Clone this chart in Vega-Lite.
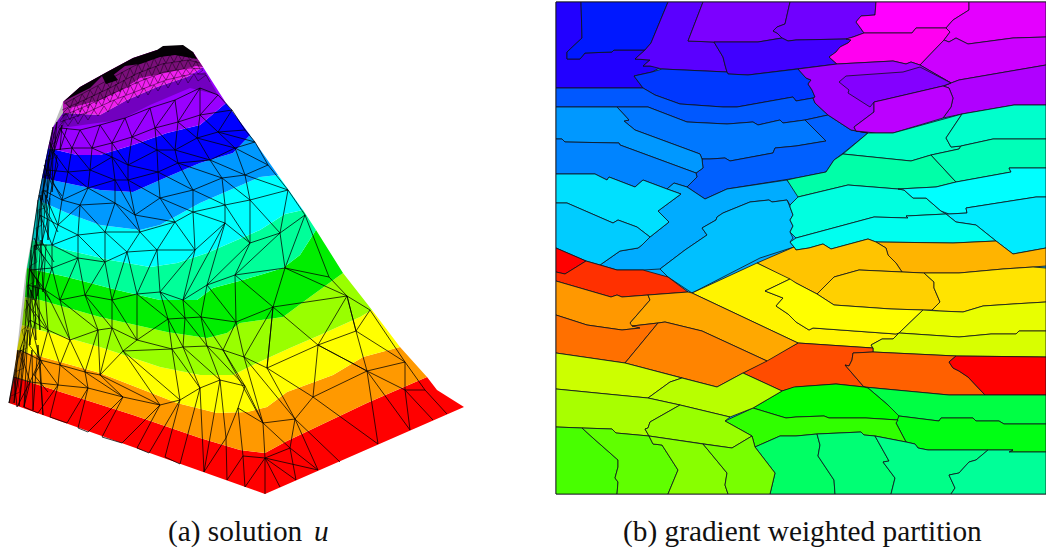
{"$schema":"https://vega.github.io/schema/vega-lite/v6.json","width":1046,"height":550,"padding":0,"autosize":"none","background":"white","config":{"view":{"stroke":null}},"projection":{"type":"identity"},"resolve":{"scale":{"color":"independent"}},"layer":[
{"data":{"values":[
{"type":"Feature","properties":{"band":"paper"},"geometry":{"type":"Polygon","coordinates":[[[0,0],[1046,0],[1046,550],[0,550],[0,0]]]}},
{"type":"Feature","properties":{"band":"v0"},"geometry":{"type":"Polygon","coordinates":[[[9,403],[14,377],[45,387],[133,415],[200,438],[240,450],[265,453],[287,441],[367,403],[427,377],[437,390],[464,407],[265,494],[9,403]]]}},
{"type":"Feature","properties":{"band":"v1"},"geometry":{"type":"Polygon","coordinates":[[[14,377],[17,350],[100,373],[177,403],[217,413],[247,412],[267,407],[287,392],[333,375],[363,357],[400,347],[427,377],[367,403],[287,441],[265,453],[240,450],[200,438],[133,415],[45,387],[14,377]]]}},
{"type":"Feature","properties":{"band":"v2"},"geometry":{"type":"Polygon","coordinates":[[[17,350],[22,325],[100,347],[160,367],[200,375],[233,375],[257,363],[290,348],[320,335],[360,317],[372,310],[400,347],[363,357],[333,375],[287,392],[267,407],[247,412],[217,413],[177,403],[100,373],[17,350]]]}},
{"type":"Feature","properties":{"band":"v3"},"geometry":{"type":"Polygon","coordinates":[[[22,325],[25,297],[40,300],[100,317],[167,332],[207,338],[227,333],[240,323],[283,317],[310,297],[343,273],[372,310],[360,317],[320,335],[290,348],[257,363],[233,375],[200,375],[160,367],[100,347],[22,325]]]}},
{"type":"Feature","properties":{"band":"v4"},"geometry":{"type":"Polygon","coordinates":[[[25,297],[27,268],[67,277],[117,290],[160,300],[197,300],[213,288],[243,280],[283,268],[300,255],[316,230],[343,273],[310,297],[283,317],[240,323],[227,333],[207,338],[167,332],[100,317],[40,300],[25,297]]]}},
{"type":"Feature","properties":{"band":"v5"},"geometry":{"type":"Polygon","coordinates":[[[27,268],[32,240],[67,250],[110,260],[150,267],[177,263],[207,253],[260,230],[285,214],[303,210],[316,230],[300,255],[283,268],[243,280],[213,288],[197,300],[160,300],[117,290],[67,277],[27,268]]]}},
{"type":"Feature","properties":{"band":"v6"},"geometry":{"type":"Polygon","coordinates":[[[32,240],[38,200],[67,213],[100,225],[140,230],[160,225],[200,203],[230,190],[260,177],[278,175],[303,210],[285,214],[260,230],[207,253],[177,263],[150,267],[110,260],[67,250],[32,240]]]}},
{"type":"Feature","properties":{"band":"v7"},"geometry":{"type":"Polygon","coordinates":[[[38,200],[42,178],[100,190],[133,192],[167,177],[200,163],[233,153],[250,135],[278,175],[260,177],[230,190],[200,203],[160,225],[140,230],[100,225],[67,213],[38,200]]]}},
{"type":"Feature","properties":{"band":"v8"},"geometry":{"type":"Polygon","coordinates":[[[42,178],[48,148],[77,155],[100,155],[133,145],[167,133],[200,125],[226,103],[250,135],[233,153],[200,163],[167,177],[133,192],[100,190],[42,178]]]}},
{"type":"Feature","properties":{"band":"v9"},"geometry":{"type":"Polygon","coordinates":[[[48,148],[53,127],[63,113],[100,115],[127,100],[157,87],[187,77],[203,67],[226,103],[200,125],[167,133],[133,145],[100,155],[77,155],[48,148]]]}},
{"type":"Feature","properties":{"band":"v10"},"geometry":{"type":"Polygon","coordinates":[[[63,113],[63,102],[80,87],[107,72],[133,58],[157,50],[183,50],[193,52],[203,67],[187,77],[157,87],[127,100],[100,115],[63,113]]]}},
{"type":"Feature","properties":{"band":"v11"},"geometry":{"type":"Polygon","coordinates":[[[63,102],[80,87],[107,72],[133,58],[157,50],[183,48],[193,52],[203,67],[196,66],[170,72],[140,78],[125,88],[100,100],[70,108],[63,102]]]}},
{"type":"Feature","properties":{"band":"v12"},"geometry":{"type":"Polygon","coordinates":[[[63,102],[80,87],[107,72],[133,58],[157,50],[163,46],[183,45],[193,52],[197,59],[175,55],[160,57],[140,64],[125,66],[112,76],[102,76],[90,88],[70,98],[63,102]]]}},
{"type":"Feature","properties":{"band":"v12"},"geometry":{"type":"Polygon","coordinates":[[[102,76],[112,72],[118,80],[106,84],[102,76]]]}}
]},"mark":{"type":"geoshape","stroke":null},"encoding":{"color":{"field":"properties.band","type":"nominal","legend":null,"scale":{"domain":["paper","v0","v1","v2","v3","v4","v5","v6","v7","v8","v9","v10","v11","v12"],"range":["#ffffff","#ff0000","#ff9900","#ffff00","#99ff00","#00ee00","#00ff99","#00ffff","#0099ff","#0000ff","#9900ff","#f020f0","#7a0f7a","#050005"]}}}},
{"data":{"values":[
{"type":"Feature","properties":{"zone":"left edge"},"geometry":{"type":"Polygon","coordinates":[[[9,403],[14,377],[25,277],[33,230],[42,177],[50,143],[53,127],[63,102],[72,108],[62,128],[54,150],[48,190],[42,225],[36,270],[28,330],[20,380],[13,404],[9,403]]]}},
{"type":"Feature","properties":{"zone":"upper rim"},"geometry":{"type":"Polygon","coordinates":[[[63,113],[100,115],[127,100],[157,87],[187,77],[205,72],[218,95],[190,88],[150,105],[120,120],[90,124],[62,128],[63,113]]]}}
]},"mark":{"type":"geoshape","fill":"#000000","fillOpacity":0.25,"stroke":null},"encoding":{}},
{"data":{"values":[
{"type":"Feature","properties":{"part":"rows"},"geometry":{"type":"MultiLineString","coordinates":[
[[60,128],[80,130],[100,125],[125,118],[150,108],[175,100],[200,88],[218,95]],
[[52,150],[72,148],[92,148],[112,143],[132,137],[155,128],[178,122],[200,115],[232,110]],
[[47,170],[68,172],[90,170],[112,157],[128,165],[157,150],[175,150],[197,138],[218,132],[245,130]],
[[43,190],[62,200],[88,188],[115,180],[128,180],[158,172],[178,163],[210,160],[235,148],[255,142]],
[[40,215],[58,225],[80,205],[115,203],[135,215],[160,198],[193,190],[222,178],[245,175],[268,165]],
[[35,245],[52,245],[78,235],[105,232],[140,232],[175,222],[193,212],[225,205],[250,200],[288,190]],
[[30,270],[52,268],[78,258],[105,262],[127,252],[157,250],[195,250],[225,223],[250,243],[280,233],[305,215]],
[[28,285],[45,290],[60,300],[85,295],[112,300],[137,294],[160,292],[183,300],[207,285],[235,275],[285,268],[329,277]],
[[30,320],[48,330],[70,340],[98,330],[112,328],[137,340],[168,319],[185,318],[201,317],[236,322],[273,307],[347,296]],
[[20,350],[40,360],[60,365],[85,372],[100,375],[123,351],[172,349],[183,347],[207,346],[223,350],[244,357],[267,368],[318,345],[356,331],[370,310]],
[[14,377],[30,382],[58,385],[88,388],[123,397],[160,405],[180,400],[200,388],[220,380],[245,386],[263,423],[295,419],[313,397],[367,371],[405,362]],
[[226,438],[238,408],[263,423]],[[243,456],[265,458],[290,448],[318,470]],[[405,390],[425,390]],[[367,371],[405,390]],[[405,362],[425,390]]
]}},
{"type":"Feature","properties":{"part":"zigzag"},"geometry":{"type":"MultiLineString","coordinates":[
[[52,150],[60,128],[72,148],[80,130],[92,148],[100,125],[112,143],[125,118],[132,137],[150,108],[155,128],[175,100],[178,122],[200,88],[200,115],[218,95],[232,110]],
[[47,170],[52,150],[68,172],[72,148],[90,170],[92,148],[112,157],[112,143],[128,165],[132,137],[157,150],[155,128],[175,150],[178,122],[197,138],[200,115],[218,132],[232,110],[245,130]],
[[43,190],[47,170],[62,200],[68,172],[88,188],[90,170],[115,180],[112,157],[128,180],[128,165],[158,172],[157,150],[178,163],[175,150],[210,160],[197,138],[235,148],[218,132],[255,142],[245,130]],
[[40,215],[43,190],[58,225],[62,200],[80,205],[88,188],[115,203],[115,180],[135,215],[128,180],[160,198],[158,172],[193,190],[178,163],[222,178],[210,160],[245,175],[235,148],[268,165],[255,142]],
[[35,245],[40,215],[52,245],[58,225],[78,235],[80,205],[105,232],[115,203],[140,232],[135,215],[175,222],[160,198],[193,212],[193,190],[225,205],[222,178],[250,200],[245,175],[288,190],[268,165]],
[[30,270],[35,245],[52,268],[52,245],[78,258],[78,235],[105,262],[105,232],[127,252],[140,232],[157,250],[175,222],[195,250],[193,212],[225,223],[225,205],[250,243],[250,200],[280,233],[288,190],[305,215]],
[[28,285],[30,270],[45,290],[52,268],[60,300],[78,258],[85,295],[105,262],[112,300],[127,252],[137,294],[157,250],[160,292],[195,250],[183,300],[225,223],[207,285],[250,243],[235,275],[280,233],[285,268],[305,215],[329,277]],
[[30,320],[28,285],[48,330],[45,290],[70,340],[60,300],[98,330],[85,295],[112,328],[112,300],[137,340],[137,294],[168,319],[160,292],[185,318],[183,300],[201,317],[207,285],[236,322],[235,275],[273,307],[285,268],[347,296],[329,277]],
[[20,350],[30,320],[40,360],[48,330],[60,365],[70,340],[85,372],[98,330],[100,375],[112,328],[123,351],[137,340],[172,349],[168,319],[183,347],[185,318],[207,346],[201,317],[223,350],[236,322],[244,357],[273,307],[267,368],[273,307],[318,345],[347,296],[356,331],[347,296],[370,310]],
[[14,377],[20,350],[30,382],[40,360],[58,385],[60,365],[88,388],[85,372],[123,397],[100,375],[160,405],[123,351],[180,400],[172,349],[200,388],[183,347],[220,380],[207,346],[245,386],[223,350],[263,423],[244,357],[295,419],[267,368],[313,397],[318,345],[367,371],[356,331],[405,362],[370,310]],
[[9,403],[14,377],[17,407],[30,382],[24,407],[38,413],[58,385],[50,417],[67,423],[88,388],[78,428],[88,432],[123,397],[102,437],[122,443],[160,405],[137,448],[149,453],[180,400],[165,457],[180,464],[200,388],[204,472],[220,380],[226,438],[227,480],[243,456],[245,487],[265,458],[265,494]],
[[265,458],[280,487]],[[265,458],[296,480]],[[265,458],[318,470]],[[290,448],[296,480]],[[226,438],[204,472]],[[238,408],[243,456]],[[238,408],[245,386]],[[263,423],[265,458]],[[263,423],[290,448]],[[295,419],[290,448]],[[295,419],[340,462]],[[295,419],[318,470]],[[313,397],[378,444]],[[367,371],[378,444]],[[367,371],[410,430]],[[405,390],[410,430]],[[405,390],[433,420]],[[425,390],[447,414]],[[405,362],[405,390]],[[367,371],[318,345]]
]}},
{"type":"Feature","properties":{"part":"left dense"},"geometry":{"type":"MultiLineString","coordinates":[
[[9,403],[18,350],[14,403],[24,345],[19,406],[28,330],[24,407],[32,350],[33,410],[38,345],[43,415],[40,360]],
[[24,345],[27,300],[30,345],[31,290],[36,340],[35,285],[40,330],[38,280]],
[[27,300],[31,250],[33,300],[35,245],[37,296],[41,240],[43,292],[46,245]],
[[31,250],[38,200],[36,250],[41,195],[42,245],[46,195],[48,240],[50,198]],
[[38,200],[46,160],[42,200],[49,155],[47,198],[53,152],[52,192],[57,155]],
[[46,160],[53,127],[49,157],[57,122],[54,152],[62,125],[60,150],[67,128]],
[[26,300],[36,318],[29,345],[42,362],[34,375],[48,392]],[[29,268],[40,285],[33,310],[46,328]],[[34,238],[44,258],[37,282],[50,300]],[[39,195],[48,218],[42,242],[54,262]],[[44,165],[52,185],[47,212],[58,232]],[[50,142],[58,165],[52,182],[62,196]]
]}}
]},"mark":{"type":"geoshape","filled":false,"stroke":"#000000","strokeWidth":0.75},"encoding":{}},
{"data":{"values":[
{"type":"Feature","properties":{"part":"fine mesh"},"geometry":{"type":"MultiLineString","coordinates":[
[[66,103],[70,108],[74,98],[78,104],[82,94],[86,100],[90,90],[94,96],[98,86],[102,92],[106,81],[110,88],[114,77],[118,84],[122,72],[126,79],[130,68],[134,76],[138,64],[142,72],[146,61],[150,69],[154,58],[158,66],[162,56],[166,63],[170,55],[174,62],[178,54],[182,61],[186,53],[190,60],[194,57]],
[[63,113],[68,108],[72,116],[76,104],[80,112],[84,100],[88,108],[92,96],[96,104],[100,92],[104,100],[108,88],[112,96],[116,84],[120,92],[124,80],[128,88],[132,76],[136,84],[140,72],[144,80],[148,68],[152,76],[156,66],[160,74],[164,63],[168,72],[172,62],[176,70],[180,61],[184,69],[188,60],[192,68],[196,61],[200,69]],
[[60,121],[66,113],[70,120],[74,111],[78,117],[82,108],[86,114],[90,104],[94,110],[98,100],[102,106],[106,96],[110,102],[114,92],[118,98],[122,88],[126,95],[130,85],[134,92],[138,82],[142,89],[146,78],[150,86],[154,76],[158,83],[162,74],[166,80],[170,72],[174,78],[178,70],[182,76],[186,69],[190,74],[194,68],[198,74],[203,70]],
[[58,128],[64,120],[68,126],[74,117],[78,124],[84,114],[88,120],[94,110],[98,116],[104,106],[108,112],[114,100],[118,105],[124,96],[128,103],[134,92],[138,98],[144,88],[148,95],[154,85],[158,91],[164,81],[168,88],[174,78],[178,85],[184,75],[188,83],[194,74],[198,81],[206,75],[210,82]],
[[64,104],[82,94],[108,80],[134,66],[160,56],[185,53],[196,58]],[[62,110],[84,100],[110,88],[136,74],[162,64],[188,60],[200,63]],[[62,116],[86,106],[112,94],[138,82],[164,72],[190,68],[203,69]],[[60,122],[88,112],[114,100],[140,90],[166,80],[192,74],[206,74]],
[[52,130],[56,142],[50,145],[54,158],[47,160],[51,175],[44,176],[48,190],[41,192],[45,208],[38,210],[42,225],[36,228],[40,245],[33,246],[37,262],[30,266],[34,282],[27,286],[31,302],[25,310],[29,325],[22,330],[27,348],[18,352],[24,368],[15,372],[20,392],[11,396]]
]}}
]},"mark":{"type":"geoshape","filled":false,"stroke":"#000000","strokeWidth":0.45},"encoding":{}},
{"data":{"values":[
{"type":"Feature","properties":{"id":"base"},"geometry":{"type":"Polygon","coordinates":[[[556,2],[1046,2],[1046,494],[556,494],[556,2]]]}},
{"type":"Feature","properties":{"id":"A"},"geometry":{"type":"Polygon","coordinates":[[[556,2],[581,2],[582,38],[567,52],[567,59],[580,59],[585,53],[612,52],[614,50],[645,50],[635,59],[650,60],[643,66],[663,66],[652,72],[634,76],[643,88],[556,88],[556,2]]]}},
{"type":"Feature","properties":{"id":"B"},"geometry":{"type":"Polygon","coordinates":[[[581,2],[668,2],[651,43],[645,50],[614,50],[612,52],[585,53],[580,59],[567,59],[567,52],[582,38],[581,2]]]}},
{"type":"Feature","properties":{"id":"C"},"geometry":{"type":"Polygon","coordinates":[[[668,2],[703,2],[688,41],[714,42],[723,57],[725,65],[727,72],[662,69],[650,66],[643,66],[650,60],[635,59],[645,50],[651,43],[668,2]]]}},
{"type":"Feature","properties":{"id":"D"},"geometry":{"type":"Polygon","coordinates":[[[703,2],[790,2],[785,24],[777,27],[773,31],[777,33],[782,38],[758,42],[714,42],[688,41],[703,2]]]}},
{"type":"Feature","properties":{"id":"E"},"geometry":{"type":"Polygon","coordinates":[[[790,2],[876,2],[875,15],[861,16],[856,22],[859,26],[864,33],[853,37],[846,39],[796,40],[788,41],[782,38],[777,33],[773,31],[777,27],[785,24],[790,2]]]}},
{"type":"Feature","properties":{"id":"F"},"geometry":{"type":"Polygon","coordinates":[[[714,42],[758,42],[782,38],[788,41],[796,40],[846,39],[851,40],[848,43],[840,47],[836,52],[829,57],[837,64],[796,69],[748,75],[728,74],[727,72],[725,65],[723,57],[714,42]]]}},
{"type":"Feature","properties":{"id":"G"},"geometry":{"type":"Polygon","coordinates":[[[876,2],[969,2],[969,10],[953,20],[946,28],[916,28],[912,33],[864,33],[859,26],[856,22],[861,16],[875,15],[876,2]]]}},
{"type":"Feature","properties":{"id":"H"},"geometry":{"type":"Polygon","coordinates":[[[864,33],[912,33],[916,28],[946,28],[950,32],[944,40],[920,65],[911,62],[906,64],[893,61],[837,64],[829,57],[836,52],[840,47],[848,43],[851,40],[846,39],[853,37],[864,33]]]}},
{"type":"Feature","properties":{"id":"I"},"geometry":{"type":"Polygon","coordinates":[[[969,2],[1046,2],[1046,37],[1013,38],[968,44],[956,38],[949,42],[944,40],[950,32],[946,28],[953,20],[969,10],[969,2]]]}},
{"type":"Feature","properties":{"id":"J"},"geometry":{"type":"Polygon","coordinates":[[[920,65],[944,40],[949,42],[956,38],[968,44],[1013,38],[1046,37],[1046,65],[959,80],[951,83],[920,65]]]}},
{"type":"Feature","properties":{"id":"K"},"geometry":{"type":"Polygon","coordinates":[[[951,83],[959,80],[1046,65],[1046,105],[1014,105],[962,114],[943,118],[951,107],[953,98],[949,88],[943,86],[951,83]]]}},
{"type":"Feature","properties":{"id":"N"},"geometry":{"type":"Polygon","coordinates":[[[634,76],[652,72],[662,69],[727,72],[728,74],[748,75],[798,69],[806,78],[811,80],[808,84],[812,90],[815,97],[813,98],[796,101],[793,97],[737,107],[723,107],[680,104],[655,95],[643,88],[634,76]]]}},
{"type":"Feature","properties":{"id":"O"},"geometry":{"type":"Polygon","coordinates":[[[556,88],[643,88],[655,95],[680,104],[723,107],[737,107],[793,97],[796,101],[813,98],[815,103],[828,115],[805,120],[783,123],[780,120],[758,125],[753,122],[727,124],[687,122],[648,107],[556,107],[556,88]]]}},
{"type":"Feature","properties":{"id":"P"},"geometry":{"type":"Polygon","coordinates":[[[617,107],[648,107],[687,122],[727,124],[753,122],[758,125],[780,120],[783,123],[805,120],[826,141],[796,146],[775,148],[773,153],[730,161],[725,158],[710,159],[702,159],[700,154],[635,130],[624,121],[629,120],[617,107]]]}},
{"type":"Feature","properties":{"id":"Q"},"geometry":{"type":"Polygon","coordinates":[[[702,159],[710,159],[725,158],[730,161],[773,153],[775,148],[796,146],[826,141],[805,120],[828,115],[851,130],[868,133],[842,154],[834,160],[826,172],[796,178],[727,189],[705,199],[687,187],[697,177],[696,173],[703,168],[702,159]]]}},
{"type":"Feature","properties":{"id":"L"},"geometry":{"type":"Polygon","coordinates":[[[798,69],[837,64],[893,61],[906,64],[911,62],[920,65],[951,83],[943,86],[883,100],[874,102],[874,112],[854,127],[856,131],[868,133],[851,130],[828,115],[815,103],[813,98],[815,97],[812,90],[808,84],[811,80],[806,78],[798,69]]]}},
{"type":"Feature","properties":{"id":"M"},"geometry":{"type":"Polygon","coordinates":[[[839,82],[846,76],[903,72],[920,67],[951,83],[943,86],[883,100],[874,102],[870,107],[848,93],[849,90],[839,82]]]}},
{"type":"Feature","properties":{"id":"K2"},"geometry":{"type":"Polygon","coordinates":[[[874,102],[874,112],[854,127],[856,131],[876,133],[893,133],[943,118],[951,107],[953,98],[949,88],[943,86],[883,100],[874,102]]]}},
{"type":"Feature","properties":{"id":"R"},"geometry":{"type":"Polygon","coordinates":[[[556,107],[617,107],[629,120],[624,121],[635,130],[700,154],[702,159],[703,168],[696,173],[620,145],[619,143],[565,142],[562,139],[556,139],[556,107]]]}},
{"type":"Feature","properties":{"id":"R2"},"geometry":{"type":"Polygon","coordinates":[[[556,139],[562,139],[565,142],[619,143],[620,145],[696,173],[697,177],[687,187],[674,183],[667,189],[643,180],[635,187],[609,177],[607,180],[595,174],[556,174],[556,139]]]}},
{"type":"Feature","properties":{"id":"U"},"geometry":{"type":"Polygon","coordinates":[[[681,194],[667,189],[674,183],[687,187],[705,199],[727,189],[787,180],[800,196],[790,205],[787,200],[772,202],[769,200],[750,202],[723,213],[717,217],[716,220],[702,228],[707,235],[685,250],[660,269],[643,270],[617,270],[600,265],[620,251],[638,248],[642,245],[650,237],[669,222],[658,211],[681,194]]]}},
{"type":"Feature","properties":{"id":"S"},"geometry":{"type":"Polygon","coordinates":[[[556,174],[595,174],[607,180],[609,177],[635,187],[643,180],[667,189],[681,194],[658,211],[669,222],[650,237],[637,227],[618,220],[613,223],[567,203],[556,203],[556,174]]]}},
{"type":"Feature","properties":{"id":"T"},"geometry":{"type":"Polygon","coordinates":[[[556,203],[567,203],[613,223],[618,220],[637,227],[650,237],[642,245],[638,248],[620,251],[600,265],[586,261],[556,248],[556,203]]]}},
{"type":"Feature","properties":{"id":"T2"},"geometry":{"type":"Polygon","coordinates":[[[769,200],[772,202],[787,200],[790,207],[793,215],[790,220],[793,226],[790,232],[793,238],[790,242],[794,247],[760,258],[692,293],[668,277],[660,269],[685,250],[707,235],[702,228],[716,220],[717,217],[723,213],[750,202],[769,200]]]}},
{"type":"Feature","properties":{"id":"V"},"geometry":{"type":"Polygon","coordinates":[[[868,133],[893,133],[962,114],[946,138],[951,147],[961,146],[959,149],[931,155],[911,161],[843,154],[868,133]]]}},
{"type":"Feature","properties":{"id":"V2"},"geometry":{"type":"Polygon","coordinates":[[[962,114],[1014,105],[1046,105],[1046,139],[993,139],[961,146],[951,147],[946,138],[962,114]]]}},
{"type":"Feature","properties":{"id":"V3"},"geometry":{"type":"Polygon","coordinates":[[[843,154],[911,161],[931,155],[956,182],[936,187],[898,189],[848,185],[798,197],[787,180],[796,178],[826,172],[834,160],[843,154]]]}},
{"type":"Feature","properties":{"id":"V4"},"geometry":{"type":"Polygon","coordinates":[[[931,155],[959,149],[961,146],[993,139],[1046,139],[1046,168],[1009,168],[1011,172],[956,182],[931,155]]]}},
{"type":"Feature","properties":{"id":"W"},"geometry":{"type":"Polygon","coordinates":[[[798,197],[848,185],[898,189],[904,190],[913,198],[926,198],[941,211],[946,214],[906,216],[908,218],[874,217],[796,238],[790,232],[793,226],[790,220],[793,215],[790,207],[790,205],[798,197]]]}},
{"type":"Feature","properties":{"id":"X"},"geometry":{"type":"Polygon","coordinates":[[[898,189],[936,187],[956,182],[1011,172],[1009,168],[1046,168],[1046,197],[1036,197],[966,208],[967,213],[949,214],[941,211],[926,198],[913,198],[904,190],[898,189]]]}},
{"type":"Feature","properties":{"id":"Y"},"geometry":{"type":"Polygon","coordinates":[[[949,214],[967,213],[966,208],[1036,197],[1046,197],[1046,248],[1013,254],[996,241],[976,225],[956,222],[946,214],[949,214]]]}},
{"type":"Feature","properties":{"id":"Z"},"geometry":{"type":"Polygon","coordinates":[[[906,216],[946,214],[956,222],[976,225],[996,241],[953,243],[876,242],[868,239],[831,249],[823,244],[809,248],[796,250],[794,247],[790,242],[796,238],[874,217],[908,218],[906,216]]]}},
{"type":"Feature","properties":{"id":"AA"},"geometry":{"type":"Polygon","coordinates":[[[876,242],[953,243],[996,241],[1013,254],[1046,248],[1046,266],[1033,267],[1003,269],[959,273],[924,273],[902,272],[896,263],[888,255],[886,248],[876,242]]]}},
{"type":"Feature","properties":{"id":"AB"},"geometry":{"type":"Polygon","coordinates":[[[757,263],[794,247],[796,250],[809,248],[823,244],[831,249],[868,239],[876,242],[886,248],[888,255],[896,263],[902,272],[859,270],[834,277],[817,294],[796,283],[757,263]]]}},
{"type":"Feature","properties":{"id":"AC"},"geometry":{"type":"Polygon","coordinates":[[[817,294],[834,277],[859,270],[924,273],[934,282],[934,288],[940,302],[932,310],[923,310],[891,309],[834,305],[817,294]]]}},
{"type":"Feature","properties":{"id":"AD"},"geometry":{"type":"Polygon","coordinates":[[[924,273],[959,273],[1003,269],[1033,267],[1046,268],[1046,302],[1013,304],[983,306],[963,312],[939,311],[932,310],[940,302],[934,288],[934,282],[924,273]]]}},
{"type":"Feature","properties":{"id":"AE0"},"geometry":{"type":"Polygon","coordinates":[[[692,293],[757,263],[790,279],[765,291],[783,298],[776,306],[788,314],[796,322],[809,330],[813,328],[896,334],[899,333],[893,339],[882,339],[871,345],[873,348],[798,343],[692,293]]]}},
{"type":"Feature","properties":{"id":"AE1"},"geometry":{"type":"Polygon","coordinates":[[[790,279],[796,283],[817,294],[834,305],[891,309],[923,310],[899,333],[896,334],[813,328],[809,330],[796,322],[788,314],[776,306],[783,298],[765,291],[790,279]]]}},
{"type":"Feature","properties":{"id":"AF"},"geometry":{"type":"Polygon","coordinates":[[[923,310],[939,311],[963,312],[983,306],[1013,304],[1046,302],[1046,331],[1019,331],[1016,334],[991,334],[959,337],[899,333],[923,310]]]}},
{"type":"Feature","properties":{"id":"AG"},"geometry":{"type":"Polygon","coordinates":[[[899,333],[959,337],[991,334],[1016,334],[1019,331],[1046,331],[1046,357],[956,356],[873,352],[873,348],[871,345],[882,339],[893,339],[899,333]]]}},
{"type":"Feature","properties":{"id":"AH"},"geometry":{"type":"Polygon","coordinates":[[[743,373],[798,343],[873,348],[873,352],[853,353],[852,360],[849,366],[845,365],[864,387],[836,384],[796,387],[782,391],[743,373]]]}},
{"type":"Feature","properties":{"id":"AI"},"geometry":{"type":"Polygon","coordinates":[[[845,365],[849,366],[852,360],[853,353],[873,352],[956,356],[949,362],[953,368],[959,371],[968,377],[985,395],[949,395],[864,387],[845,365]]]}},
{"type":"Feature","properties":{"id":"AJ"},"geometry":{"type":"Polygon","coordinates":[[[956,356],[1046,357],[1046,395],[985,395],[968,377],[959,371],[953,368],[949,362],[956,356]]]}},
{"type":"Feature","properties":{"id":"AK"},"geometry":{"type":"Polygon","coordinates":[[[864,387],[949,395],[1046,395],[1046,424],[1004,424],[999,421],[976,421],[973,418],[941,418],[939,421],[899,416],[898,420],[888,405],[868,388],[864,387]]]}},
{"type":"Feature","properties":{"id":"AL"},"geometry":{"type":"Polygon","coordinates":[[[782,391],[794,387],[836,384],[864,387],[868,388],[888,405],[899,416],[898,420],[866,418],[829,418],[824,416],[796,417],[786,418],[776,415],[753,408],[782,391]]]}},
{"type":"Feature","properties":{"id":"AM"},"geometry":{"type":"Polygon","coordinates":[[[899,416],[939,421],[941,418],[973,418],[976,421],[999,421],[1004,424],[1046,424],[1046,452],[1009,452],[1013,450],[928,450],[918,448],[915,444],[906,442],[896,423],[899,416]]]}},
{"type":"Feature","properties":{"id":"AN"},"geometry":{"type":"Polygon","coordinates":[[[725,421],[753,408],[776,415],[786,418],[796,417],[824,416],[829,418],[866,418],[898,420],[896,423],[906,442],[875,436],[864,435],[861,432],[817,434],[796,436],[780,436],[755,447],[752,436],[725,421]]]}},
{"type":"Feature","properties":{"id":"AO"},"geometry":{"type":"Polygon","coordinates":[[[755,447],[780,436],[796,436],[817,434],[820,445],[818,456],[834,480],[835,494],[770,494],[775,473],[755,447]]]}},
{"type":"Feature","properties":{"id":"AP"},"geometry":{"type":"Polygon","coordinates":[[[817,434],[861,432],[864,435],[875,436],[889,461],[883,462],[895,478],[891,494],[835,494],[834,480],[818,456],[820,445],[817,434]]]}},
{"type":"Feature","properties":{"id":"AQ"},"geometry":{"type":"Polygon","coordinates":[[[875,436],[906,442],[915,444],[918,448],[928,450],[988,450],[976,460],[969,462],[959,473],[949,475],[955,488],[951,494],[891,494],[895,478],[883,462],[889,461],[875,436]]]}},
{"type":"Feature","properties":{"id":"AR"},"geometry":{"type":"Polygon","coordinates":[[[988,450],[1013,450],[1009,452],[1046,452],[1046,494],[951,494],[955,488],[949,475],[959,473],[969,462],[976,460],[988,450]]]}},
{"type":"Feature","properties":{"id":"AS"},"geometry":{"type":"Polygon","coordinates":[[[556,248],[586,261],[565,274],[556,272],[556,248]]]}},
{"type":"Feature","properties":{"id":"AT"},"geometry":{"type":"Polygon","coordinates":[[[586,261],[600,265],[617,270],[643,270],[650,272],[668,277],[688,292],[648,295],[622,297],[617,295],[611,297],[556,281],[556,272],[565,274],[586,261]]]}},
{"type":"Feature","properties":{"id":"AU"},"geometry":{"type":"Polygon","coordinates":[[[556,281],[611,297],[617,295],[622,297],[648,295],[650,300],[630,323],[640,328],[622,330],[587,325],[556,315],[556,281]]]}},
{"type":"Feature","properties":{"id":"AV"},"geometry":{"type":"Polygon","coordinates":[[[648,295],[688,292],[692,293],[798,343],[767,361],[702,331],[665,322],[658,323],[632,326],[630,323],[650,300],[648,295]]]}},
{"type":"Feature","properties":{"id":"AW"},"geometry":{"type":"Polygon","coordinates":[[[556,315],[587,325],[622,330],[640,328],[632,326],[658,323],[625,363],[556,353],[556,315]]]}},
{"type":"Feature","properties":{"id":"AX"},"geometry":{"type":"Polygon","coordinates":[[[658,323],[665,322],[702,331],[767,361],[743,373],[717,387],[625,363],[658,323]]]}},
{"type":"Feature","properties":{"id":"AY"},"geometry":{"type":"Polygon","coordinates":[[[556,353],[625,363],[682,378],[670,382],[648,398],[617,395],[556,389],[556,353]]]}},
{"type":"Feature","properties":{"id":"AZ"},"geometry":{"type":"Polygon","coordinates":[[[682,378],[717,387],[743,373],[782,391],[753,408],[730,417],[680,405],[648,398],[670,382],[682,378]]]}},
{"type":"Feature","properties":{"id":"BA"},"geometry":{"type":"Polygon","coordinates":[[[556,389],[617,395],[648,398],[680,405],[650,422],[648,428],[645,429],[649,436],[616,433],[612,429],[582,428],[556,427],[556,389]]]}},
{"type":"Feature","properties":{"id":"BB"},"geometry":{"type":"Polygon","coordinates":[[[680,405],[730,417],[725,421],[752,436],[732,448],[649,436],[645,429],[648,428],[650,422],[680,405]]]}},
{"type":"Feature","properties":{"id":"BC"},"geometry":{"type":"Polygon","coordinates":[[[556,427],[582,428],[593,438],[618,460],[618,467],[615,478],[618,482],[617,494],[556,494],[556,427]]]}},
{"type":"Feature","properties":{"id":"BD"},"geometry":{"type":"Polygon","coordinates":[[[582,428],[612,429],[616,433],[649,436],[653,444],[662,445],[678,470],[668,494],[617,494],[618,482],[615,478],[618,467],[618,460],[593,438],[582,428]]]}},
{"type":"Feature","properties":{"id":"BE"},"geometry":{"type":"Polygon","coordinates":[[[649,436],[703,444],[708,450],[727,473],[725,485],[728,494],[668,494],[678,470],[662,445],[653,444],[649,436]]]}},
{"type":"Feature","properties":{"id":"BF"},"geometry":{"type":"Polygon","coordinates":[[[703,444],[732,448],[752,436],[755,447],[775,473],[770,494],[728,494],[725,485],[727,473],[708,450],[703,444]]]}}
]},"mark":{"type":"geoshape","stroke":"#101018","strokeWidth":0.8},"encoding":{"color":{"field":"properties.id","type":"nominal","legend":null,"scale":{"domain":["base","A","B","C","D","E","F","G","H","I","J","K","N","O","P","Q","L","M","K2","R","R2","U","S","T","T2","V","V2","V3","V4","W","X","Y","Z","AA","AB","AC","AD","AE0","AE1","AF","AG","AH","AI","AJ","AK","AL","AM","AN","AO","AP","AQ","AR","AS","AT","AU","AV","AW","AX","AY","AZ","BA","BB","BC","BD","BE","BF"],"range":["#00acff","#2200ff","#0018ff","#5a00ff","#7c00ff","#7000ff","#4000ff","#ff00ff","#ff00f0","#e400ff","#cc00ff","#b000ff","#0038ff","#0058ff","#0078ff","#0060ff","#9c00ff","#8400ff","#bc00ff","#0098ff","#0084ff","#00acff","#00e0ff","#00ccff","#00c0ff","#00ffc4","#00ffcc","#00ffa8","#00ffb8","#00ffe0","#00ffff","#00ecff","#00fff0","#ffb400","#ffc400","#ffd000","#ffe400","#fff400","#ffff00","#e8ff00","#d8ff00","#ff4c00","#ff6000","#ff0000","#00ff44","#00ff00","#00ff14","#30ff00","#00ff64","#00ff74","#00ff88","#00ff98","#ff0000","#ff3000","#ff9800","#ffa800","#ff7000","#ff8400","#ccff00","#b8ff00","#a8ff00","#98ff00","#48ff00","#60ff00","#88ff00","#78ff00"]}}}},
{"data":{"values":[{"caption":"(a) solution","cx":168,"cy":541},{"caption":"(b) gradient weighted partition","cx":623,"cy":541}]},"mark":{"type":"text","font":"Liberation Serif","fontSize":29.3,"align":"left","baseline":"alphabetic","color":"#111111"},"encoding":{"longitude":{"field":"cx","type":"quantitative"},"latitude":{"field":"cy","type":"quantitative"},"text":{"field":"caption","type":"nominal"}}},
{"data":{"values":[{"caption":"u","cx":314,"cy":541}]},"mark":{"type":"text","font":"Liberation Serif","fontStyle":"italic","fontSize":29.3,"align":"left","baseline":"alphabetic","color":"#111111"},"encoding":{"longitude":{"field":"cx","type":"quantitative"},"latitude":{"field":"cy","type":"quantitative"},"text":{"field":"caption","type":"nominal"}}}
]}
